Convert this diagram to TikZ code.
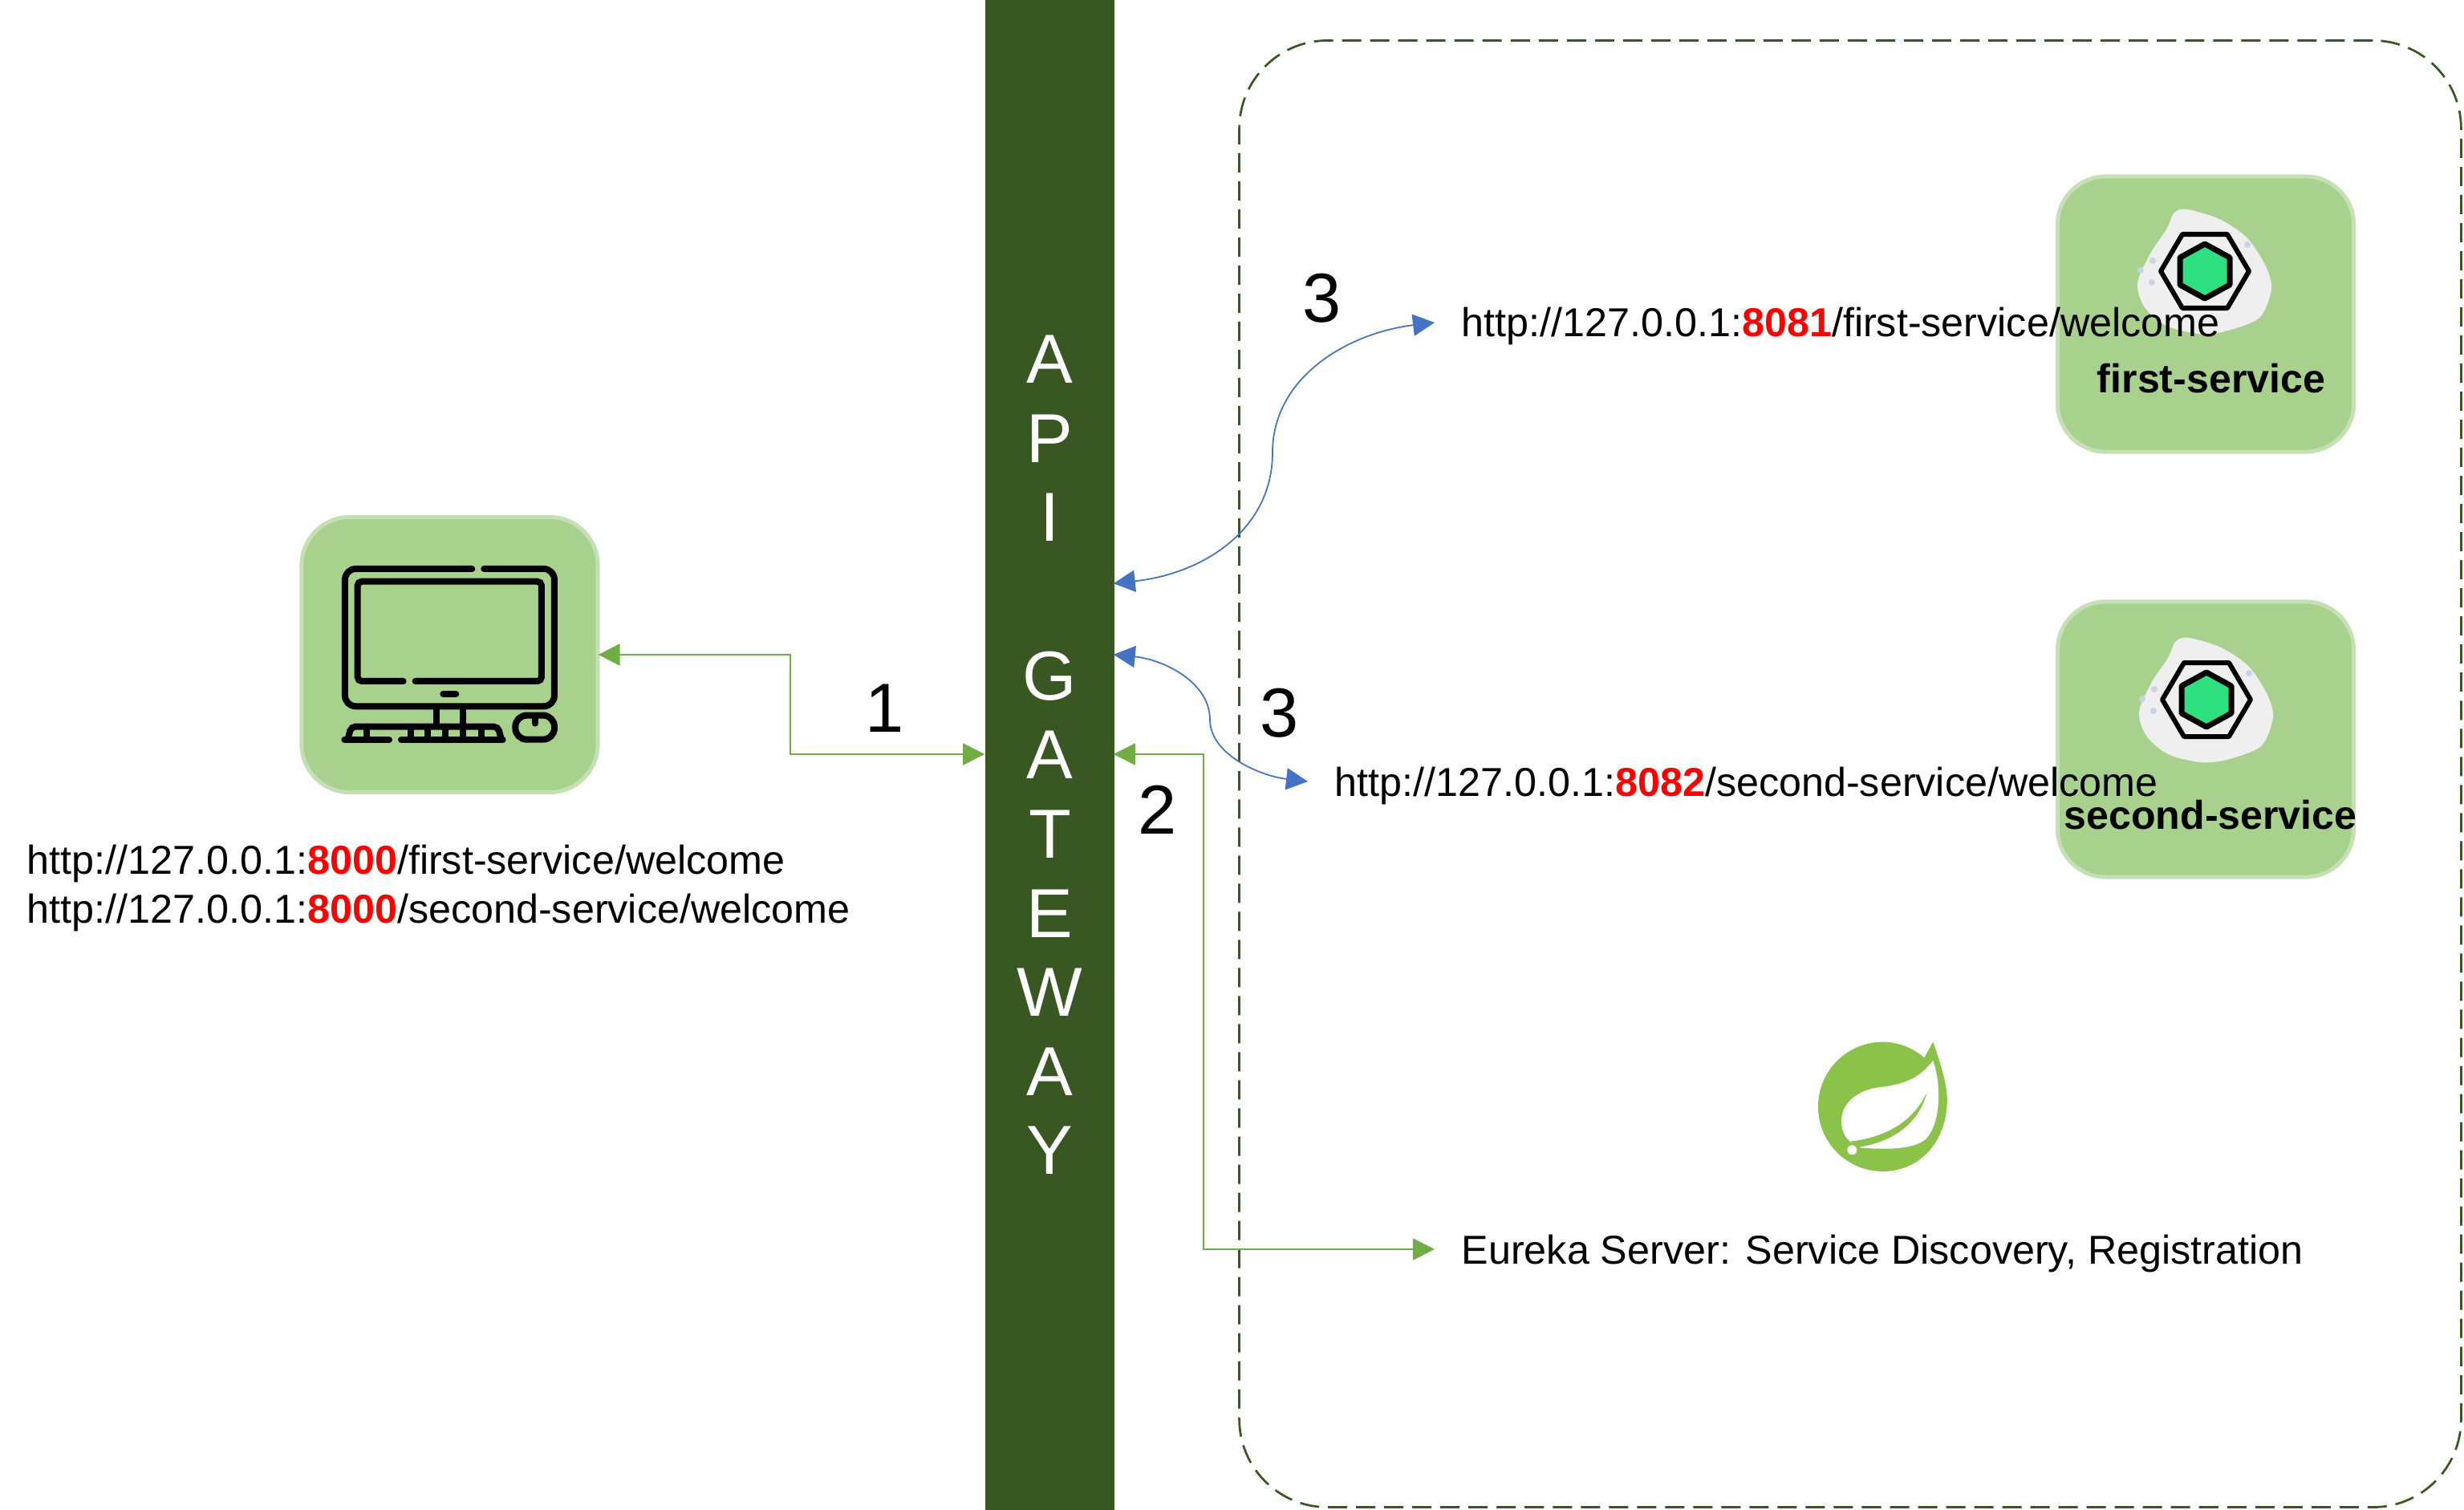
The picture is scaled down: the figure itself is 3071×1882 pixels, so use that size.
\documentclass[tikz,border=0pt]{standalone}
\usepackage{fontspec}
\setmainfont{Liberation Sans}
\usepackage{xcolor}
\usetikzlibrary{arrows.meta,positioning,calc}
\definecolor{cA}{HTML}{385723}
\definecolor{cB}{HTML}{a9d18e}
\definecolor{cC}{HTML}{c5e0b4}
\definecolor{cD}{HTML}{70ad47}
\definecolor{cE}{HTML}{4472c4}
\definecolor{cF}{HTML}{ff0000}
\definecolor{cG}{HTML}{2ee080}
\definecolor{cH}{HTML}{efefef}
\definecolor{cI}{HTML}{c9d3e6}
\definecolor{cJ}{HTML}{8bc34a}
\newcommand{\portno}[1]{\textbf{\textcolor{cF}{#1}}}
\tikzset{
  gwbar/.style={fill=cA,text=white,inner sep=0pt,align=center,minimum width=1.61cm,
              minimum height=18.82cm,font=\fontsize{24.6}{28.05}\selectfont},
  cluster/.style={draw=cA,line width=.027cm,dash pattern=on .24cm off .11cm,rounded corners=1.1cm,
              minimum width=15.22cm,minimum height=18.27cm},
  tile/.style={draw=cC,line width=.05cm,fill=cB,rounded corners=.6cm,
              minimum width=3.69cm,minimum height=3.43cm},
  url/.style={anchor=west,inner ysep=0pt,inner xsep=.33cm,align=left,font=\fontsize{14.3}{17.5}\selectfont},
  svcname/.style={inner sep=0pt,font=\fontsize{14.25}{17}\selectfont\bfseries},
  num/.style={inner sep=0pt,font=\fontsize{24.6}{28}\selectfont},
  glink/.style={{Triangle[length=.27cm,width=.27cm]}-{Triangle[length=.27cm,width=.27cm]},line width=.5pt,cD,shorten <=-.02cm},
  blink/.style={{Triangle[length=.27cm,width=.27cm]}-{Triangle[length=.27cm,width=.27cm]},line width=.5pt,cE,shorten <=-.02cm},
  icon/.style={line width=.08cm,line cap=round,black},
  svcicon/.pic={
    \fill[cH] plot[smooth cycle] coordinates {(-38,-73)(-22,-77)(18,-65)(52,-42)(75,-8)(83,22)(68,58)(25,75)
      (-8,78)(-48,68)(-75,45)(-84,15)(-68,-22)(-48,-52)};
    \foreach \dx/\dy in {-66/14,-80/-1,-65/-13,53/-33}
      \fill[cI] (\dx,\dy) circle (4);
    \draw[line width=.06cm,line join=round] (-55,0)--(-28,-46)--(28,-46)--(55,0)--(28,46)--(-28,46)--cycle;
    \draw[line width=.07cm,line join=round,fill=cG] (0,-34)--(31,-17)--(31,17)--(0,34)--(-31,17)--(-31,-17)--cycle;
  },
}

\begin{document}
\begin{tikzpicture}[x=.01cm,y=-.01cm]
  \useasboundingbox (0,0) rectangle (3071,1882);
  \node[gwbar](gw) at (1308.5,941){A\\P\\I\\[28.05pt]G\\A\\T\\E\\W\\A\\Y};
  \node[cluster](box) at (2306,964.5){};
  \node[tile](pc) at (560.5,816){};
  \node[tile](svcA) at (2749,391.5){};
  \node[tile](svcB) at (2749,921.5){};

  \begin{scope}[shift={(340,620)},scale=.3333,icon]
    \draw[rounded corners=3.8pt] (745,267)--(270,267)--(270,781)--(1053,781)--(1053,267)--(790,267);
    \draw[rounded corners=1.5pt] (488,687)--(317,687)--(317,314)--(1005,314)--(1005,687)--(533,687);
    \draw (637,735)--(685,735);
    \draw (611,790)--(611,855) (712,790)--(712,855);
    \draw (268,906)--(435,906) (480,906)--(860,906);
    \draw[rounded corners=1.5pt] (280,906)--(293,857)--(842,857)--(855,906);
    \foreach \kx in {350,515,580,645,710,780}
      \draw (\kx,857)--(\kx,906);
    \draw[rounded corners=4pt] (980,815)--(907,815)--(907,905)--(1053,905)--(1053,815)--cycle;
    \draw (980,820)--(980,845);
  \end{scope}

  \pic at (2748,338){svcicon};
  \pic at (2750,872){svcicon};

  \begin{scope}[shift={(2200,1260)},scale=.3333]
    \fill[cJ] (595,175)--(628,115) .. controls (660,210) and (685,290) .. (680,350)
      .. controls (672,500) and (570,600) .. (440,600) .. controls (306,600) and (198,492) .. (198,358)
      .. controls (198,224) and (306,116) .. (440,116) .. controls (500,116) and (555,140) .. (595,175)--cycle;
    \fill[white] (628,185) .. controls (580,250) and (520,275) .. (430,285)
      .. controls (340,295) and (285,350) .. (285,410) .. controls (285,450) and (300,475) .. (320,490)
      --(360,512) .. controls (450,518) and (550,520) .. (600,480) .. controls (650,430) and (665,300) .. (628,185)--cycle;
    \fill[cJ] (605,305) .. controls (560,400) and (470,470) .. (320,488)--(345,510)
      .. controls (480,490) and (575,420) .. (605,305)--cycle;
    \fill[white] (325,520) circle (18);
  \end{scope}

  \node[url,inner xsep=0pt](urlC) at (33,1107){http://127.0.0.1:\portno{8000}/first-service/welcome\\
    http://127.0.0.1:\portno{8000}/second-service/welcome};
  \node[url](urlA) at (1788,406){http://127.0.0.1:\portno{8081}/first-service/welcome};
  \node[url](urlB) at (1630,979){http://127.0.0.1:\portno{8082}/second-service/welcome};
  \node[url](urlE) at (1788,1562){Eureka Server: Service Discovery, Registration};
  \node[svcname](nameA) at (2756,472){first-service};
  \node[svcname](nameB) at (2755,1016){second-service};

  \node[num](n1) at (1103,883){1};
  \node[num](n2) at (1443,1009){2};
  \node[num](n3a) at (1648,372){3};
  \node[num](n3b) at (1595,889){3};

  \coordinate (gwA) at (gw.east |- 0,727);
  \coordinate (gwB) at (gw.east |- 0,816);
  \coordinate (gwC) at (gw.east |- 0,940);
  \coordinate (gwD) at (gw.west |- 0,940);
  \coordinate (tipA) at (urlA.west |- 0,402);
  \coordinate (tipB) at (urlB.west |- 0,974);
  \coordinate (tipE) at (urlE.west |- 0,1557);

  \draw[glink] (pc.east)--(985,816)--(985,940)--(gwD);
  \draw[glink] (gwC)--(1500,940)--(1500,1557)--(tipE);
  \draw[blink] (gwA) .. controls (1500,715) and (1586,660) .. (1586,564)
    .. controls (1586,470) and (1680,415) .. (tipA);
  \draw[blink] (gwB) .. controls (1450,822) and (1508,850) .. (1508,897)
    .. controls (1508,940) and (1570,967) .. (tipB);
\end{tikzpicture}
\end{document}
